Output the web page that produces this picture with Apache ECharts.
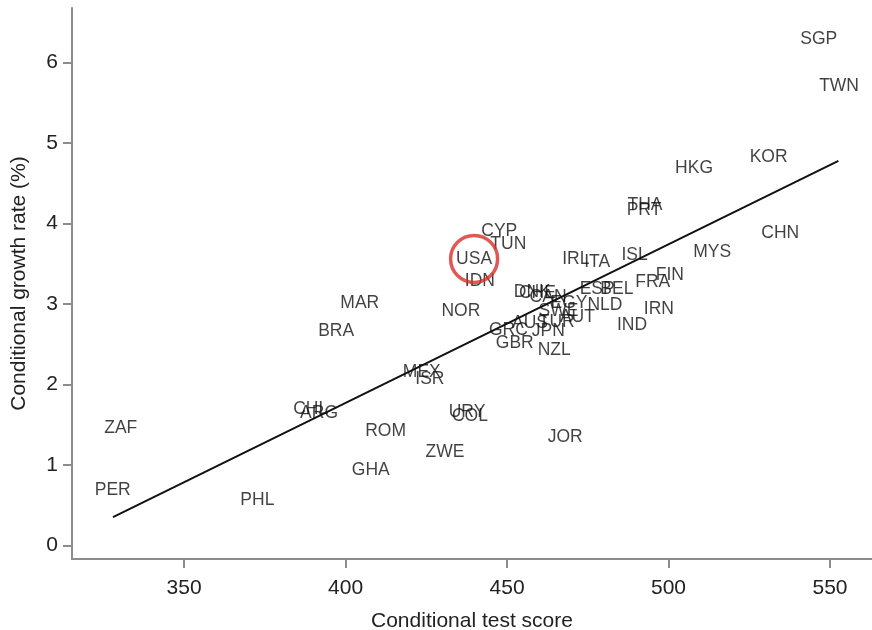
<!DOCTYPE html>
<html>
<head>
<meta charset="utf-8">
<script src="https://cdn.jsdelivr.net/npm/echarts@6/dist/echarts.min.js"></script>
<style>html,body{margin:0;padding:0;background:#fff}#c{width:872px;height:630px}</style>
</head>
<body>
<div id="c"></div>
<script>
const countries = ["SGP","TWN","KOR","HKG","THA","PRT","CHN","MYS","ISL","CYP","TUN","USA","IRL","ITA","FIN","FRA","IDN","DNK","CHE","CAN","ESP","BEL","NLD","IRN","IND","NOR","MAR","BRA","GRC","AUS","JPN","TUR","SWE","EGY","AUT","GBR","NZL","MEX","ISR","CHL","ARG","ZAF","ROM","ZWE","GHA","PER","PHL","URY","COL","JOR"];
const testScore = [546.5,552.8,531.0,507.9,492.7,492.4,534.6,513.5,489.5,447.6,450.4,439.8,471.3,477.9,500.4,495.1,441.6,457.8,459.4,462.7,477.9,484.0,480.3,497.0,488.7,435.7,404.4,397.1,450.4,457.1,462.8,465.4,465.9,469.2,471.8,452.4,464.6,423.6,426.1,389.2,391.8,330.4,412.4,430.8,407.8,327.9,372.7,437.6,438.5,468.0];
const growthRate = [6.29,5.71,4.82,4.69,4.23,4.17,3.88,3.65,3.61,3.90,3.74,3.56,3.56,3.52,3.36,3.27,3.29,3.15,3.14,3.08,3.18,3.18,2.99,2.93,2.74,2.91,3.01,2.66,2.68,2.76,2.66,2.77,2.91,3.01,2.84,2.51,2.43,2.15,2.06,1.69,1.64,1.46,1.42,1.16,0.94,0.68,0.56,1.65,1.60,1.35];
const fitLineX = [328.0, 552.6];
const fitLineY = [0.35, 4.78];
const highlighted = "USA";
const xTicks = [350,400,450,500,550];
const yTicks = [0,1,2,3,4,5,6];

const pts = countries.map((c,i)=>({name:c, value:[testScore[i], growthRate[i]]}));
const hi = countries.indexOf(highlighted);
const chart = echarts.init(document.getElementById('c'), null, {renderer:'canvas'});
const axisCol = '#8c8c8c';
const txtCol = '#222';
const font = 'Liberation Sans, Arial, Helvetica, sans-serif';
chart.setOption({
  animation:false,
  grid:{left:72, top:8, right:0, bottom:71, containLabel:false, outerBoundsMode:'none'},
  xAxis:{
    type:'value', min:315.3, max:563,
    name:'Conditional test score', nameLocation:'middle', nameGap:52,
    nameTextStyle:{color:txtCol, fontSize:21, fontFamily:font},
    axisLine:{show:true, onZero:false, lineStyle:{color:axisCol, width:2}},
    axisTick:{show:true, length:9, lineStyle:{color:axisCol, width:2}, customValues:xTicks},
    axisLabel:{color:txtCol, fontSize:21, fontFamily:font, margin:19, customValues:xTicks},
    splitLine:{show:false}
  },
  yAxis:{
    type:'value', min:-0.17, max:6.68,
    name:'Conditional growth rate (%)', nameLocation:'middle', nameGap:42, nameRotate:90,
    nameTextStyle:{color:txtCol, fontSize:21, fontFamily:font},
    axisLine:{show:true, onZero:false, lineStyle:{color:axisCol, width:2}},
    axisTick:{show:true, length:9, lineStyle:{color:axisCol, width:2}, customValues:yTicks},
    axisLabel:{color:txtCol, fontSize:21, fontFamily:font, margin:14, customValues:yTicks},
    splitLine:{show:false}
  },
  series:[
    {
      type:'line', data:[[fitLineX[0],fitLineY[0]],[fitLineX[1],fitLineY[1]]],
      symbol:'none', lineStyle:{color:'#111', width:2}, z:2
    },
    {
      type:'scatter', data:pts, symbolSize:1,
      itemStyle:{color:'rgba(0,0,0,0)'},
      label:{show:true, position:'inside', formatter:p=>p.name, color:'#111', fontSize:17.5, fontFamily:font},
      z:3
    },
    {
      type:'scatter', data:[[testScore[hi], growthRate[hi]]], symbol:'circle', symbolSize:47,
      itemStyle:{color:'rgba(0,0,0,0)', borderColor:'#d9302a', borderWidth:3.5},
      z:4
    }
  ]
});
</script>
</body>
</html>
